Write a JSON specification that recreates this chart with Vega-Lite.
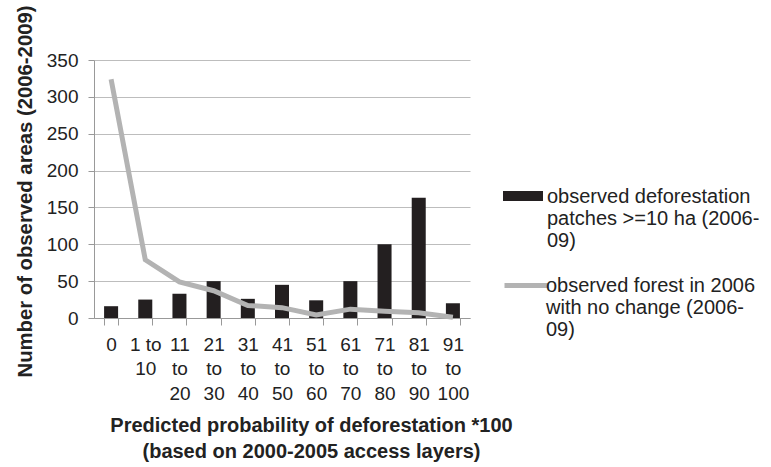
{
  "$schema": "https://vega.github.io/schema/vega-lite/v6.json",
  "width": 376,
  "height": 258,
  "autosize": {"type": "none"},
  "padding": {"left": 94, "top": 60, "right": 301, "bottom": 149},
  "background": "white",
  "config": {
    "font": "Liberation Sans",
    "view": {"stroke": null},
    "axis": {"labelColor": "#222222", "titleColor": "#222222", "labelFont": "Liberation Sans", "titleFont": "Liberation Sans"},
    "axisY": {
      "values": [0, 50, 100, 150, 200, 250, 300, 350],
      "labelOverlap": false,
      "titleFontSize": 20.3,
      "titleFontWeight": "bold",
      "titleX": -69,
      "titleY": 131,
      "titleBaseline": "middle",
      "titleAlign": "center",
      "titleAngle": -90,
      "labelFontSize": 19,
      "labelPadding": 10,
      "tickSize": 6,
      "tickColor": "#999999",
      "domainColor": "#999999",
      "grid": true,
      "gridColor": "#bdbdbd"
    },
    "legend": {"labelFont": "Liberation Sans", "labelColor": "#222222"}
  },
  "data": {
    "values": [
      {"cat": "0", "deforestation": 16, "forest": 324},
      {"cat": "1 to|10", "deforestation": 25, "forest": 79},
      {"cat": "11|to|20", "deforestation": 33, "forest": 49},
      {"cat": "21|to|30", "deforestation": 50, "forest": 37},
      {"cat": "31|to|40", "deforestation": 26, "forest": 17},
      {"cat": "41|to|50", "deforestation": 45, "forest": 14},
      {"cat": "51|to|60", "deforestation": 24, "forest": 4},
      {"cat": "61|to|70", "deforestation": 50, "forest": 12},
      {"cat": "71|to|80", "deforestation": 100, "forest": 9},
      {"cat": "81|to|90", "deforestation": 163, "forest": 7},
      {"cat": "91|to|100", "deforestation": 20, "forest": 1}
    ]
  },
  "encoding": {
    "x": {
      "field": "cat",
      "type": "nominal",
      "sort": null,
      "scale": {"paddingInner": 0.59, "paddingOuter": 0.295},
      "axis": {
        "title": ["Predicted probability of deforestation *100", "(based on 2000-2005 access layers)"],
        "titleFontSize": 20,
        "titleFontWeight": "bold",
        "titleLineHeight": 26,
        "titleX": 217,
        "titleY": 97,
        "titleAlign": "center",
        "titleBaseline": "top",
        "labelExpr": "datum.value == null ? '' : split(datum.value, '|')",
        "labelAngle": 0,
        "labelFontSize": 19,
        "labelLineHeight": 24.5,
        "labelBaseline": "top",
        "labelPadding": 10,
        "labelAlign": "center",
        "labelOverlap": false,
        "tickBand": "extent",
        "tickSize": 7,
        "tickColor": "#999999",
        "domainColor": "#999999",
        "grid": false
      }
    }
  },
  "layer": [
    {
      "mark": {"type": "bar"},
      "encoding": {
        "y": {
          "field": "deforestation",
          "type": "quantitative",
          "scale": {"domain": [0, 350], "nice": false},
          "title": "Number of observed areas (2006-2009)"
        },
        "fill": {
          "datum": "observed deforestation|patches >=10 ha (2006-|09)",
          "type": "nominal",
          "scale": {"range": ["#231f20"]},
          "legend": {
            "title": null,
            "orient": "none",
            "legendX": 409,
            "legendY": 107,
            "padding": 0,
            "labelExpr": "split(datum.label, '|')",
            "labelFontSize": 20,
            "labelLineHeight": 27,
            "labelBaseline": "top",
            "labelLimit": 400,
            "symbolType": "M-1,0.2H1V0.7H-1Z",
            "symbolSize": 1600,
            "symbolStrokeWidth": 0,
            "labelOffset": 4
          }
        }
      }
    },
    {
      "mark": {"type": "line", "strokeWidth": 5},
      "encoding": {
        "y": {"field": "forest", "type": "quantitative", "title": "Number of observed areas (2006-2009)"},
        "stroke": {
          "datum": "observed forest in 2006|with no change (2006-|09)",
          "type": "nominal",
          "scale": {"range": ["#b3b3b3"]},
          "legend": {
            "title": null,
            "orient": "none",
            "legendX": 408,
            "legendY": 191,
            "padding": 0,
            "labelExpr": "split(datum.label, '|')",
            "labelFontSize": 20,
            "labelLineHeight": 27,
            "labelBaseline": "top",
            "labelLimit": 400,
            "symbolType": "M-1,0.45H1",
            "symbolSize": 1936,
            "symbolStrokeWidth": 5,
            "labelOffset": -5
          }
        }
      }
    }
  ]
}
